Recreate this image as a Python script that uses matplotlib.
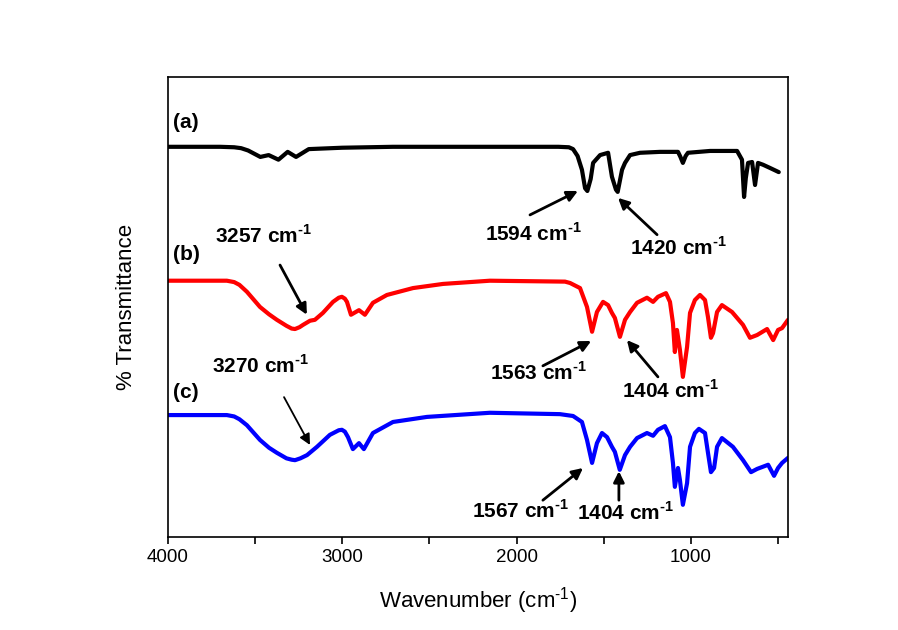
"""
FTIR spectra (a), (b), (c) stacked with peak annotations
"""
import matplotlib
matplotlib.use("Agg")
import matplotlib.pyplot as plt

plt.rcParams['font.family'] = ['Liberation Sans', 'DejaVu Sans']
plt.rcParams['mathtext.fontset'] = 'custom'
plt.rcParams['mathtext.rm'] = 'Liberation Sans'
plt.rcParams['mathtext.bf'] = 'Liberation Sans:bold'

# spectrum (a), black
wn_a = [4000, 3700, 3620, 3580, 3540, 3500, 3470, 3422, 3366, 3313, 3265, 3192,
        3000, 2709, 2200, 1760, 1700, 1676, 1650, 1625, 1607, 1594, 1575, 1561,
        1521, 1475, 1453, 1430, 1420, 1395, 1378, 1349, 1292, 1177, 1074, 1060,
        1046, 1030, 1017, 890, 735, 707, 695, 685, 672, 649, 632, 615, 586,
        546, 496]
tr_a = [84.8, 84.8, 84.7, 84.5, 84.0, 83.2, 82.6, 83.0, 82.0, 83.7, 82.6, 84.3,
        84.6, 84.8, 84.8, 84.8, 84.7, 84.3, 82.8, 79.8, 75.8, 75.2, 77.8, 81.3,
        83.0, 83.5, 78.3, 75.5, 75.0, 79.8, 81.3, 83.0, 83.5, 83.7, 83.7, 82.6,
        81.3, 82.8, 83.5, 83.9, 83.9, 82.0, 73.9, 78.0, 81.3, 81.5, 76.5, 81.3,
        80.9, 80.2, 79.3]

# spectrum (b), red
wn_b = [4000, 3662, 3620, 3590, 3547, 3472, 3420, 3375, 3320, 3290, 3271, 3245,
        3225, 3185, 3157, 3111, 3053, 3020, 3002, 2985, 2973, 2950, 2904, 2870,
        2824, 2744, 2594, 2422, 2153, 1722, 1693, 1636, 1596, 1567, 1539, 1504,
        1475, 1453, 1436, 1407, 1378, 1349, 1309, 1252, 1217, 1189, 1143, 1120,
        1103, 1092, 1080, 1063, 1046, 1022, 1005, 977, 948, 919, 902, 885, 873,
        850, 822, 764, 701, 661, 620, 563, 528, 500, 477, 443]
tr_b = [55.7, 55.7, 55.4, 54.8, 53.3, 50.0, 48.4, 47.2, 45.9, 45.3, 45.2, 45.6,
        46.1, 47.0, 47.2, 48.7, 51.1, 52.0, 52.2, 51.8, 51.1, 48.3, 49.3, 48.3,
        50.9, 52.6, 54.1, 55.0, 55.7, 55.5, 55.2, 54.1, 50.0, 44.6, 48.9, 51.1,
        50.4, 48.7, 47.6, 43.5, 47.2, 48.9, 50.9, 52.0, 51.1, 52.2, 53.0, 51.1,
        46.5, 40.2, 45.0, 40.7, 34.8, 41.3, 48.7, 51.5, 52.6, 51.5, 47.8, 43.3,
        44.3, 48.9, 50.4, 48.9, 46.1, 43.3, 43.9, 45.2, 42.8, 45.0, 45.4, 47.2]

# spectrum (c), blue
wn_c = [4000, 3662, 3620, 3590, 3547, 3472, 3420, 3375, 3320, 3290, 3271, 3240,
        3202, 3145, 3071, 3020, 3002, 2985, 2967, 2939, 2904, 2876, 2824, 2709,
        2514, 2153, 1751, 1676, 1625, 1596, 1567, 1539, 1510, 1481, 1453, 1436,
        1408, 1378, 1349, 1309, 1252, 1217, 1189, 1149, 1120, 1103, 1092, 1074,
        1063, 1046, 1022, 1005, 977, 954, 919, 902, 885, 867, 850, 822, 759, 701,
        655, 620, 557, 523, 500, 477, 443]
tr_c = [26.5, 26.5, 26.2, 25.6, 24.3, 21.1, 19.4, 18.3, 17.1, 16.8, 16.7, 17.1,
        17.8, 19.6, 22.2, 23.2, 23.3, 22.9, 21.7, 19.1, 20.4, 19.1, 22.6, 25.0,
        26.1, 27.0, 26.7, 26.3, 25.0, 21.1, 16.1, 20.4, 22.6, 21.7, 19.6, 18.5,
        14.6, 17.8, 19.6, 21.5, 22.6, 22.0, 23.3, 24.1, 21.7, 16.1, 10.9, 15.0,
        12.4, 7.0, 11.7, 19.6, 22.6, 23.5, 22.6, 18.3, 14.1, 15.0, 19.6, 21.5,
        19.6, 16.7, 14.1, 14.8, 15.7, 13.3, 15.0, 16.1, 17.2]

SUP = '$^{\\mathbf{\u2010}\\mathbf{1}}$'

# (text, text x, text y, arrow tail, arrow head, arrow width)
peak_notes = [
    ('3257 cm' + SUP, 3730, 63.9, (3357, 59.1), (3203, 48.3), 2.0),
    ('3270 cm' + SUP, 3748, 35.7, (3334, 30.4), (3185, 20.0), 1.3),
    ('1594 cm' + SUP, 2181, 64.4, (1923, 70.0), (1648, 75.2), 2.0),
    ('1420 cm' + SUP, 1349, 61.3, (1194, 65.7), (1418, 73.7), 2.0),
    ('1563 cm' + SUP, 2153, 34.1, (1849, 37.2), (1572, 42.6), 2.0),
    ('1404 cm' + SUP, 1395, 30.2, (1189, 34.8), (1367, 42.8), 2.0),
    ('1567 cm' + SUP, 2256, 4.1, (1849, 8.0), (1619, 15.0), 2.0),
    ('1404 cm' + SUP, 1653, 3.7, (1413, 8.0), (1413, 14.3), 2.0),
]

fig, ax = plt.subplots(figsize=(8.98, 6.3), dpi=100)
fig.subplots_adjust(left=0.187, right=0.8775, bottom=0.1476, top=0.878)

for wn, tr, color in [(wn_a, tr_a, 'black'), (wn_b, tr_b, 'red'), (wn_c, tr_c, 'blue')]:
    ax.plot(wn, tr, color=color, linewidth=3, solid_joinstyle='round',
            solid_capstyle='round')

for label, y in [('(a)', 90.0), ('(b)', 61.3), ('(c)', 31.5)]:
    ax.text(3971, y, label, fontsize=15, fontweight='bold', ha='left', va='center')

for text, tx, ty, tail, head, lw in peak_notes:
    ax.text(tx, ty, text, fontsize=15, fontweight='bold', ha='left', va='baseline')
    ax.annotate('', xy=head, xytext=tail,
                arrowprops=dict(arrowstyle='-|>', color='black', lw=lw,
                                mutation_scale=16, shrinkA=0, shrinkB=0))

ax.set_xlim(4000, 443)
ax.set_ylim(0, 100)
ax.set_xticks([4000, 3000, 2000, 1000])
ax.set_xticks([3500, 2500, 1500, 500], minor=True)
ax.set_yticks([])
ax.tick_params(axis='x', which='both', direction='out', length=5, width=1.2,
               labelsize=13.5, top=False)
for spine in ax.spines.values():
    spine.set_linewidth(1.2)

ax.set_xlabel('Wavenumber (cm$^{\u2010 1}$)'.replace('\u2010 ', '\u2010'),
              fontsize=16, labelpad=14)
ax.set_ylabel('% Transmittance', fontsize=16, labelpad=22)

fig.savefig('out.png', dpi=100)
